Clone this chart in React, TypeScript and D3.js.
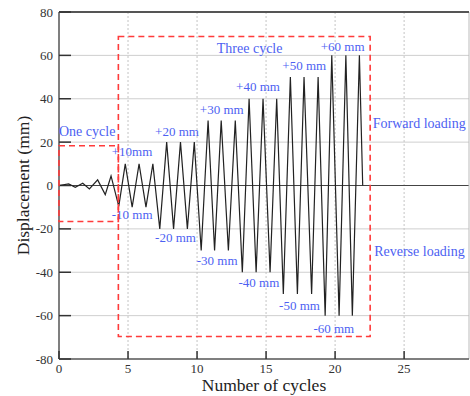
import * as React from 'react';
import * as d3 from 'd3';

// loading protocol: cycle position vs displacement (mm)
const cycleX = [
  0, 0.7, 1.18, 1.72, 2.2, 2.8, 3.35, 3.77, 4.33,
  4.8, 5.3, 5.8, 6.3, 6.8,
  7.3, 7.8, 8.3, 8.8, 9.3, 9.8,
  10.3, 10.8, 11.27, 11.75, 12.27, 12.77,
  13.28, 13.77, 14.28, 14.78, 15.29, 15.77,
  16.25, 16.76, 17.27, 17.75, 18.3, 18.77,
  19.28, 19.76, 20.29, 20.78, 21.25, 21.76, 22.0,
];
const displacement = [
  0, 0.7, -0.8, 1.0, -1.6, 2.6, -4.2, 4.4, -9.6,
  10, -10, 10, -10, 10,
  -20, 20, -20, 20, -20, 20,
  -30, 30, -30, 30, -30, 30,
  -40, 40, -40, 40, -40, 40,
  -50, 50, -50, 50, -50, 50,
  -60, 60, -60, 60, -60, 60, 0,
];

const xTicks = [0, 5, 10, 15, 20, 25];
const yTicks = [-80, -60, -40, -20, 0, 20, 40, 60, 80];

// amplitude labels: text, left x (cycles), baseline y (mm)
const ampLabels = ['+10mm', '-10 mm', '+20 mm', '-20 mm', '+30 mm', '-30 mm', '+40 mm', '-40 mm', '+50 mm', '-50 mm', '+60 mm', '-60 mm'];
const ampLabelX = [3.82, 3.82, 6.96, 6.96, 10.2, 9.98, 12.83, 13.0, 16.18, 15.94, 18.96, 18.43];
const ampLabelY = [13.5, -15.4, 22.7, -25.9, 33.1, -36.5, 43.5, -46.7, 53.4, -57.4, 61.8, -68.1];

// region labels
const regionLabels = ['One cycle', 'Three cycle', 'Forward loading', 'Reverse loading'];
const regionLabelX = [0.0, 11.43, 22.73, 22.83];
const regionLabelY = [22.7, 61.1, 26.7, -32.5];

// dashed boxes: [x0, x1, yTop, yBottom]
const boxes = [
  [0, 4.3, 18.3, -16.6],
  [4.3, 22.54, 68.7, -69.6],
];

export default function App() {
  const width = 470;
  const height = 396;

  const x = d3.scaleLinear().domain([0, 29.7]).range([59, 469]);
  const y = d3.scaleLinear().domain([-80, 80]).range([359, 12]);

  const pts = cycleX.map((c, i) => [c, displacement[i]] as [number, number]);
  const line = d3.line<[number, number]>().x((d) => x(d[0])).y((d) => y(d[1]));

  const blue = '#4d5ff2';
  const serif = '"Liberation Serif", "Times New Roman", serif';

  return (
    <svg width={width} height={height} style={{ position: 'absolute', left: 0, top: 0, background: '#fff' }}
      fontFamily={serif}>
      {/* horizontal grid */}
      {yTicks.filter((t) => t !== 0 && Math.abs(t) !== 80).map((t) => (
        <line key={'hg' + t} x1={x(0)} x2={x(29.7)} y1={y(t)} y2={y(t)} stroke="#cfcfcf" strokeWidth={1} />
      ))}
      {/* vertical dotted grid */}
      {xTicks.filter((t) => t !== 0).map((t) => (
        <line key={'vg' + t} x1={x(t)} x2={x(t)} y1={y(80)} y2={y(-80)} stroke="#c4c4c4" strokeWidth={1} strokeDasharray="2,2" />
      ))}
      {/* zero line */}
      <line x1={x(0)} x2={x(29.7)} y1={y(0)} y2={y(0)} stroke="#444" strokeWidth={1.2} />

      {/* frame */}
      <line x1={x(29.7)} x2={x(29.7)} y1={y(80)} y2={y(-80)} stroke="#bbb" strokeWidth={1} />
      <line x1={x(0)} x2={x(29.7)} y1={y(80)} y2={y(80)} stroke="#555" strokeWidth={1.8} />
      <line x1={x(0)} x2={x(29.7)} y1={y(-80)} y2={y(-80)} stroke="#555" strokeWidth={1.5} />
      <line x1={x(0)} x2={x(0)} y1={y(80)} y2={y(-80)} stroke="#555" strokeWidth={1.5} />

      {/* ticks */}
      {yTicks.map((t) => (
        <g key={'yt' + t}>
          <line x1={x(0)} x2={x(0) + 12} y1={y(t)} y2={y(t)} stroke="#333" strokeWidth={1.5} />
          <text x={x(0) - 6} y={y(t)} dy="0.35em" textAnchor="end" fontSize={13} fill="#333">{t}</text>
        </g>
      ))}
      {xTicks.map((t) => (
        <g key={'xt' + t}>
          <line x1={x(t)} x2={x(t)} y1={y(-80)} y2={y(-80) - 8} stroke="#333" strokeWidth={1.5} />
          <text x={x(t)} y={y(-80) + 14} textAnchor="middle" fontSize={13} fill="#333">{t}</text>
        </g>
      ))}

      {/* axis titles */}
      <text x={264} y={391} textAnchor="middle" fontSize={17.5} fill="#222">Number of cycles</text>
      <text transform={`translate(29,${y(0)}) rotate(-90)`} textAnchor="middle" fontSize={17.5} fill="#222">Displacement (mm)</text>

      {/* loading history */}
      <path d={line(pts) ?? ''} fill="none" stroke="#222" strokeWidth={1.2} strokeLinejoin="miter" />

      {/* labels */}
      {ampLabels.map((s, i) => (
        <text key={s} x={x(ampLabelX[i])} y={y(ampLabelY[i])} fontSize={13} fill={blue}>{s}</text>
      ))}
      {regionLabels.map((s, i) => (
        <text key={s} x={x(regionLabelX[i])} y={y(regionLabelY[i])} fontSize={14} fill={blue}>{s}</text>
      ))}

      {/* dashed regions */}
      {boxes.map((b, i) => (
        <rect key={'box' + i} x={x(b[0])} y={y(b[2])} width={x(b[1]) - x(b[0])} height={y(b[3]) - y(b[2])}
          fill="none" stroke="#ff3b3b" strokeWidth={1.6} strokeDasharray="6,4" />
      ))}
    </svg>
  );
}
